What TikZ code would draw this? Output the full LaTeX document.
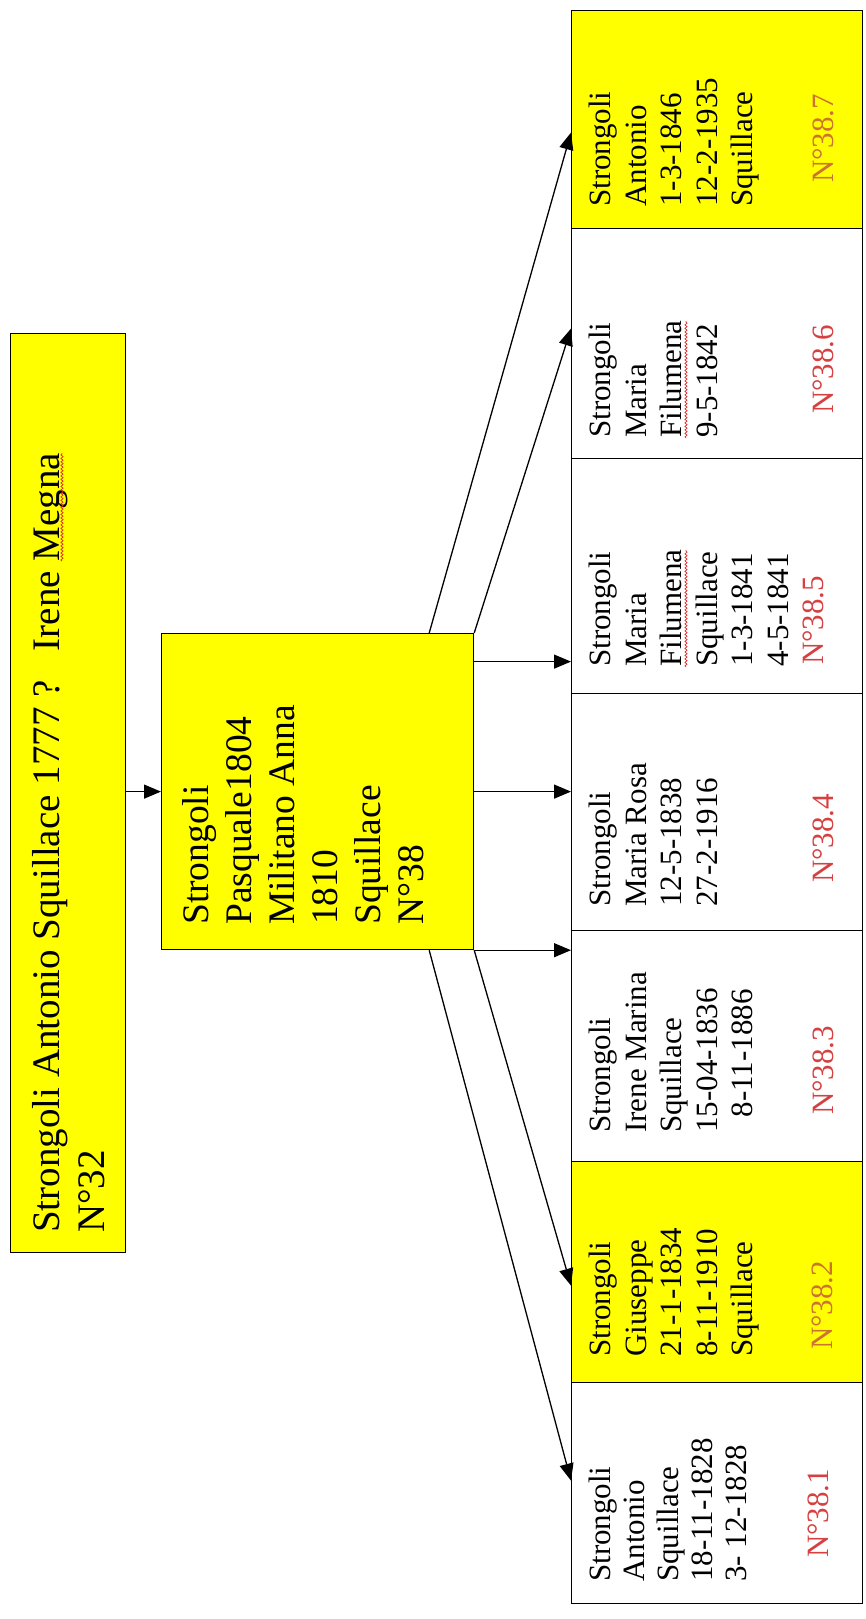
\documentclass[tikz,border=0pt]{standalone}
\usepackage{fontspec}
\setmainfont{Liberation Serif}
\usetikzlibrary{arrows.meta,decorations.pathmorphing}
\definecolor{boxyellow}{RGB}{255,255,0}
\definecolor{numred}{RGB}{214,64,64}
\definecolor{numorange}{RGB}{205,115,50}
\definecolor{squigred}{RGB}{220,40,40}
\tikzset{
  box/.style={draw=black, line width=1.2pt, anchor=north west, inner sep=0pt},
  ybox/.style={box, fill=boxyellow},
  wbox/.style={box, fill=white},
  rtext/.style={rotate=90, anchor=north west, inner sep=0pt, align=left},
  ctext/.style={rtext, font=\fontsize{31}{35.5}\selectfont},
  ntext/.style={rtext, font=\fontsize{31}{35.5}\selectfont},
  arr/.style={line width=1.3pt, -{Triangle[length=17pt,width=14pt]}},
  squig/.style={draw=squigred, line width=0.7pt, decorate, decoration={snake, amplitude=1.1pt, segment length=3.5pt}}
}
\begin{document}
\begin{tikzpicture}[x=1pt,y=-1pt]
\useasboundingbox[fill=white] (0,0) rectangle (865,1619);

% boxes
\node[ybox, minimum width=115pt, minimum height=919pt] (top) at (10,333) {};
\node[ybox, minimum width=312pt, minimum height=316pt] (mid) at (161,633) {};
\node[ybox, minimum width=291pt, minimum height=218pt] (c7) at (571,10) {};
\node[wbox, minimum width=291pt, minimum height=230pt] (c6) at (571,228) {};
\node[wbox, minimum width=291pt, minimum height=235pt] (c5) at (571,458) {};
\node[wbox, minimum width=291pt, minimum height=237pt] (c4) at (571,693) {};
\node[wbox, minimum width=291pt, minimum height=231pt] (c3) at (571,930) {};
\node[ybox, minimum width=291pt, minimum height=221pt] (c2) at (571,1161) {};
\node[wbox, minimum width=291pt, minimum height=221pt] (c1) at (571,1382) {};

% texts
\node[rtext, font=\fontsize{39}{45}\selectfont] (tt) at (32,1233)
  {Strongoli Antonio Squillace 1777 ?\hspace{0.75em}Irene Megna\\N°32};
\node[rtext, font=\fontsize{37.5}{43}\selectfont] (mt) at (182,925)
  {Strongoli\\Pasquale1804\\Militano Anna\\1810\\Squillace\\N°38};

\node[ctext] (t7) at (589,207) {Strongoli\\Antonio\\1-3-1846\\12-2-1935\\Squillace};
\node[ntext, text=numorange] (n7) at (813,183) {N°38.7};
\node[ctext] (t6) at (589,438) {Strongoli\\Maria\\Filumena\\9-5-1842};
\node[ntext, text=numred] (n6) at (813,414) {N°38.6};
\node[ctext] (t5) at (589,667) {Strongoli\\Maria\\Filumena\\Squillace\\1-3-1841\\4-5-1841};
\node[ntext, text=numred] (n5) at (803,665) {N°38.5};
\node[ctext] (t4) at (589,907) {Strongoli\\Maria Rosa\\12-5-1838\\27-2-1916};
\node[ntext, text=numred] (n4) at (813,883) {N°38.4};
\node[ctext] (t3) at (589,1133) {Strongoli\\Irene Marina\\Squillace\\15-04-1836\\\hphantom{1}8-11-1886};
\node[ntext, text=numred] (n3) at (813,1115) {N°38.3};
\node[ctext] (t2) at (589,1357) {Strongoli\\Giuseppe\\21-1-1834\\8-11-1910\\Squillace};
\node[ntext, text=numorange] (n2) at (812,1350) {N°38.2};
\node[ctext, font=\fontsize{31}{34}\selectfont] (t1) at (589,1582) {Strongoli\\Antonio\\Squillace\\18-11-1828\\3- 12-1828};
\node[ntext, text=numred] (n1) at (808,1558) {N°38.1};

% spell-check marks
\draw[squig] (686,667) -- (686,550);
\draw[squig] (686,438) -- (686,321);
\draw[squig] (62,561) -- (62,453);

% connectors
\draw[arr] (mid.west -| top.east) -- (mid.west);
\coordinate (m5) at ([yshift=130pt]mid.east);
\draw[arr] ([xshift=-45pt]mid.north east) -- ([yshift=-13pt]c7.west);
\draw[arr] (mid.north east) -- ([yshift=15pt]c6.west);
\draw[arr] (m5) -- (m5 -| c5.west);
\draw[arr] (mid.east) -- (mid.east -| c4.west);
\draw[arr] (mid.south east) -- (mid.south east -| c3.west);
\draw[arr] (mid.south east) -- ([yshift=-13.5pt]c2.west);
\draw[arr] ([xshift=-45pt]mid.south east) -- ([yshift=12.5pt]c1.west);
\end{tikzpicture}
\end{document}
